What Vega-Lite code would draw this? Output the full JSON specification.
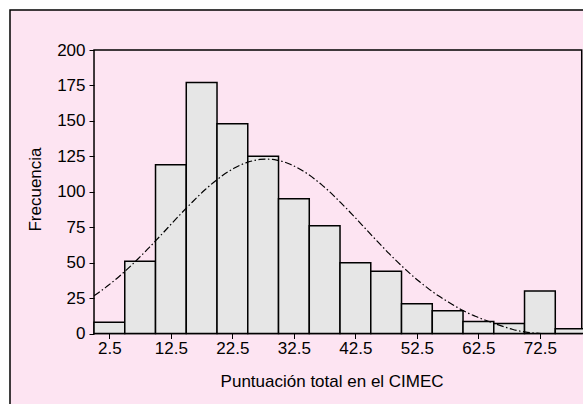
{
  "$schema": "https://vega.github.io/schema/vega-lite/v6.json",
  "width": 574,
  "height": 395,
  "autosize": {"type": "none"},
  "padding": {"left": 10, "top": 10, "right": 0, "bottom": 0},
  "background": "white",
  "config": {
    "view": {"fill": "#fde4f2", "stroke": "black", "strokeWidth": 1.5},
    "font": "Liberation Sans",
    "axisX": {
      "orient": "bottom", "offset": -71.5, "domain": false,
      "format": ".1f", "grid": false,
      "tickSize": 5, "tickColor": "black", "tickWidth": 1,
      "labelFontSize": 17, "labelColor": "black", "labelPadding": 2,
      "labelFlush": false, "labelOverlap": false,
      "titleFontSize": 17, "titleFontWeight": "normal", "titleColor": "black",
      "titleX": 321.6, "titleY": 52.5, "titleBaseline": "alphabetic", "titleAlign": "center"
    },
    "axisY": {
      "orient": "left", "offset": -84, "domain": false,
      "grid": false,
      "tickSize": 5, "tickColor": "black", "tickWidth": 1,
      "labelFontSize": 17, "labelColor": "black", "labelPadding": 4,
      "labelOverlap": false,
      "titleFontSize": 17, "titleFontWeight": "normal", "titleColor": "black",
      "titleAngle": 270, "titleX": -54, "titleY": 179,
      "titleBaseline": "alphabetic", "titleAlign": "center"
    }
  },
  "datasets": {
    "bins": [
      {"bin_start": 0, "bin_end": 5, "count": 8},
      {"bin_start": 5, "bin_end": 10, "count": 51},
      {"bin_start": 10, "bin_end": 15, "count": 119},
      {"bin_start": 15, "bin_end": 20, "count": 177},
      {"bin_start": 20, "bin_end": 25, "count": 148},
      {"bin_start": 25, "bin_end": 30, "count": 125},
      {"bin_start": 30, "bin_end": 35, "count": 95},
      {"bin_start": 35, "bin_end": 40, "count": 76},
      {"bin_start": 40, "bin_end": 45, "count": 50},
      {"bin_start": 45, "bin_end": 50, "count": 44},
      {"bin_start": 50, "bin_end": 55, "count": 21},
      {"bin_start": 55, "bin_end": 60, "count": 16},
      {"bin_start": 60, "bin_end": 65, "count": 8.5},
      {"bin_start": 65, "bin_end": 70, "count": 7},
      {"bin_start": 70, "bin_end": 75, "count": 30},
      {"bin_start": 75, "bin_end": 80, "count": 3.3}
    ],
    "curve": [
      {"score": 0, "freq": 26.6}, {"score": 1, "freq": 29.6}, {"score": 2, "freq": 32.9},
      {"score": 3, "freq": 36.3}, {"score": 4, "freq": 39.9}, {"score": 5, "freq": 43.8},
      {"score": 6, "freq": 47.8}, {"score": 7, "freq": 52.0}, {"score": 8, "freq": 56.3},
      {"score": 9, "freq": 60.8}, {"score": 10, "freq": 65.3}, {"score": 11, "freq": 69.9},
      {"score": 12, "freq": 74.6}, {"score": 13, "freq": 79.3}, {"score": 14, "freq": 83.9},
      {"score": 15, "freq": 88.4}, {"score": 16, "freq": 92.8}, {"score": 17, "freq": 97.1},
      {"score": 18, "freq": 101.2}, {"score": 19, "freq": 105.0}, {"score": 20, "freq": 108.5},
      {"score": 21, "freq": 111.8}, {"score": 22, "freq": 114.6}, {"score": 23, "freq": 117.1},
      {"score": 24, "freq": 119.2}, {"score": 25, "freq": 120.9}, {"score": 26, "freq": 122.0},
      {"score": 27, "freq": 122.8}, {"score": 28, "freq": 123.0}, {"score": 29, "freq": 122.8},
      {"score": 30, "freq": 122.0}, {"score": 31, "freq": 120.9}, {"score": 32, "freq": 119.2},
      {"score": 33, "freq": 117.1}, {"score": 34, "freq": 114.6}, {"score": 35, "freq": 111.8},
      {"score": 36, "freq": 108.5}, {"score": 37, "freq": 105.0}, {"score": 38, "freq": 101.2},
      {"score": 39, "freq": 97.1}, {"score": 40, "freq": 92.8}, {"score": 41, "freq": 88.4},
      {"score": 42, "freq": 83.9}, {"score": 43, "freq": 79.3}, {"score": 44, "freq": 74.6},
      {"score": 45, "freq": 69.9}, {"score": 46, "freq": 65.3}, {"score": 47, "freq": 60.8},
      {"score": 48, "freq": 56.3}, {"score": 49, "freq": 52.0}, {"score": 50, "freq": 47.8},
      {"score": 51, "freq": 43.8}, {"score": 52, "freq": 39.9}, {"score": 53, "freq": 36.3},
      {"score": 54, "freq": 32.9}, {"score": 55, "freq": 29.6}, {"score": 56, "freq": 26.6},
      {"score": 57, "freq": 23.8}, {"score": 58, "freq": 21.2}, {"score": 59, "freq": 18.6},
      {"score": 60, "freq": 16.2}, {"score": 61, "freq": 14.0}, {"score": 62, "freq": 12.2},
      {"score": 63, "freq": 10.4}, {"score": 64, "freq": 8.8}, {"score": 65, "freq": 7.2},
      {"score": 66, "freq": 5.7}, {"score": 67, "freq": 4.3}, {"score": 68, "freq": 3.0},
      {"score": 69, "freq": 1.9}, {"score": 70, "freq": 1.1}, {"score": 71, "freq": 0.5},
      {"score": 72, "freq": 0.2}, {"score": 72.7, "freq": 0}
    ]
  },
  "layer": [
    {
      "data": {"values": [{}]},
      "mark": {"type": "rect", "fill": "transparent", "stroke": "black", "strokeWidth": 1.5},
      "encoding": {
        "x": {"datum": 0, "type": "quantitative", "scale": {"domain": [-13.66, 79.67], "nice": false, "zero": false}, "title": "Puntuación total en el CIMEC", "axis": {"values": [2.5, 12.5, 22.5, 32.5, 42.5, 52.5, 62.5, 72.5]}},
        "x2": {"datum": 79.3},
        "y": {"datum": 0, "type": "quantitative", "scale": {"domain": [-50.44, 228.22], "nice": false, "zero": false}, "title": "Frecuencia", "axis": {"values": [0, 25, 50, 75, 100, 125, 150, 175, 200]}},
        "y2": {"datum": 200}
      }
    },
    {
      "data": {"name": "bins"},
      "mark": {"type": "bar", "fill": "#e6e6e6", "stroke": "black", "strokeWidth": 1.5, "clip": true},
      "encoding": {
        "x": {"field": "bin_start", "type": "quantitative", "title": "Puntuación total en el CIMEC", "axis": {"values": [2.5, 12.5, 22.5, 32.5, 42.5, 52.5, 62.5, 72.5]}},
        "x2": {"field": "bin_end"},
        "y": {"field": "count", "type": "quantitative", "title": "Frecuencia", "axis": {"values": [0, 25, 50, 75, 100, 125, 150, 175, 200]}},
        "y2": {"datum": 0}
      }
    },
    {
      "data": {"name": "curve"},
      "mark": {"type": "line", "color": "black", "strokeWidth": 1.2, "strokeDash": [7, 2.5, 1.5, 2.5], "interpolate": "monotone"},
      "encoding": {
        "x": {"field": "score", "type": "quantitative", "title": "Puntuación total en el CIMEC", "axis": {"values": [2.5, 12.5, 22.5, 32.5, 42.5, 52.5, 62.5, 72.5]}},
        "y": {"field": "freq", "type": "quantitative", "title": "Frecuencia", "axis": {"values": [0, 25, 50, 75, 100, 125, 150, 175, 200]}}
      }
    }
  ]
}
